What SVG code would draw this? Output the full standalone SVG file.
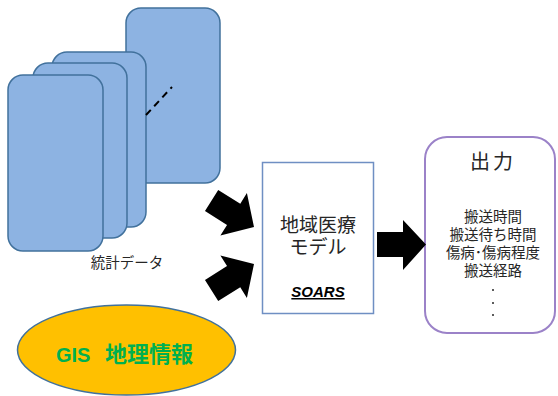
<svg xmlns="http://www.w3.org/2000/svg" width="558" height="396" viewBox="0 0 558 396">
<style>
.card{fill:#8DB3E2;stroke:#41719C;stroke-width:1.5}
.jp{font-family:"Noto Sans CJK JP","Noto Sans",sans-serif;fill:#262626}
.arr{fill:#000}
</style>
<defs>
<path id="blk" d="M-50,-12.5 L-24,-12.5 L-24,-25 L0,0 L-24,25 L-24,12.5 L-50,12.5 Z"/>
</defs>
<rect width="558" height="396" fill="#fff"/>
<g id="data">
<rect class="card" x="126" y="8" width="94" height="175" rx="15"/>
<rect class="card" x="52" y="52" width="94" height="175" rx="15"/>
<rect class="card" x="33" y="63" width="94" height="175" rx="15"/>
<rect class="card" x="8" y="75" width="95" height="176" rx="15"/>
<line x1="146" y1="115" x2="172" y2="87" stroke="#000" stroke-width="2" stroke-dasharray="7,5"/>
<text class="jp" x="127" y="268" font-size="14.5" text-anchor="middle">統計データ</text>
</g>
<g id="gis">
<ellipse cx="126.5" cy="350" rx="109" ry="45" fill="#FFC000" stroke="#41719C" stroke-width="1.5"/>
<text x="56" y="362" font-family="'Liberation Sans','Noto Sans CJK JP',sans-serif" font-weight="bold" fill="#00B050" font-size="20">GIS<tspan x="105" font-size="22" font-family="'Noto Sans CJK JP',sans-serif">地理情報</tspan></text>
</g>
<g id="model">
<rect x="262.5" y="162.5" width="111" height="151" fill="#fff" stroke="#6F8FC3" stroke-width="1.5"/>
<text class="jp" x="318" y="232" font-size="19" text-anchor="middle">地域医療</text>
<text class="jp" x="318" y="254" font-size="19" text-anchor="middle">モデル</text>
<text x="318" y="297" font-family="'Liberation Sans',sans-serif" font-size="15" font-weight="bold" font-style="italic" text-decoration="underline" text-anchor="middle" fill="#000">SOARS</text>
</g>
<g id="output">
<rect x="425" y="137" width="130" height="196" rx="22" fill="#fff" stroke="#9B82C8" stroke-width="2"/>
<text class="jp" x="493" y="169" font-size="20" text-anchor="middle" letter-spacing="3">出力</text>
<text class="jp" x="493" y="222" font-size="14.5" text-anchor="middle">搬送時間</text>
<text class="jp" x="493" y="240" font-size="14.5" text-anchor="middle">搬送待ち時間</text>
<text class="jp" x="493" y="258" font-size="14.5" text-anchor="middle">傷病･傷病程度</text>
<text class="jp" x="493" y="276" font-size="14.5" text-anchor="middle">搬送経路</text>
<g fill="#262626">
<circle cx="493" cy="290" r="1"/>
<circle cx="493" cy="303" r="1"/>
<circle cx="493" cy="315" r="1"/>
</g>
</g>
<g id="connectors" class="arr">
<use href="#blk" transform="translate(254,227) rotate(32)"/>
<use href="#blk" transform="translate(254,264) rotate(-32)"/>
<path d="M377,232 L403,232 L403,220 L426,244.5 L403,270 L403,257 L377,257 Z"/>
</g>
</svg>
